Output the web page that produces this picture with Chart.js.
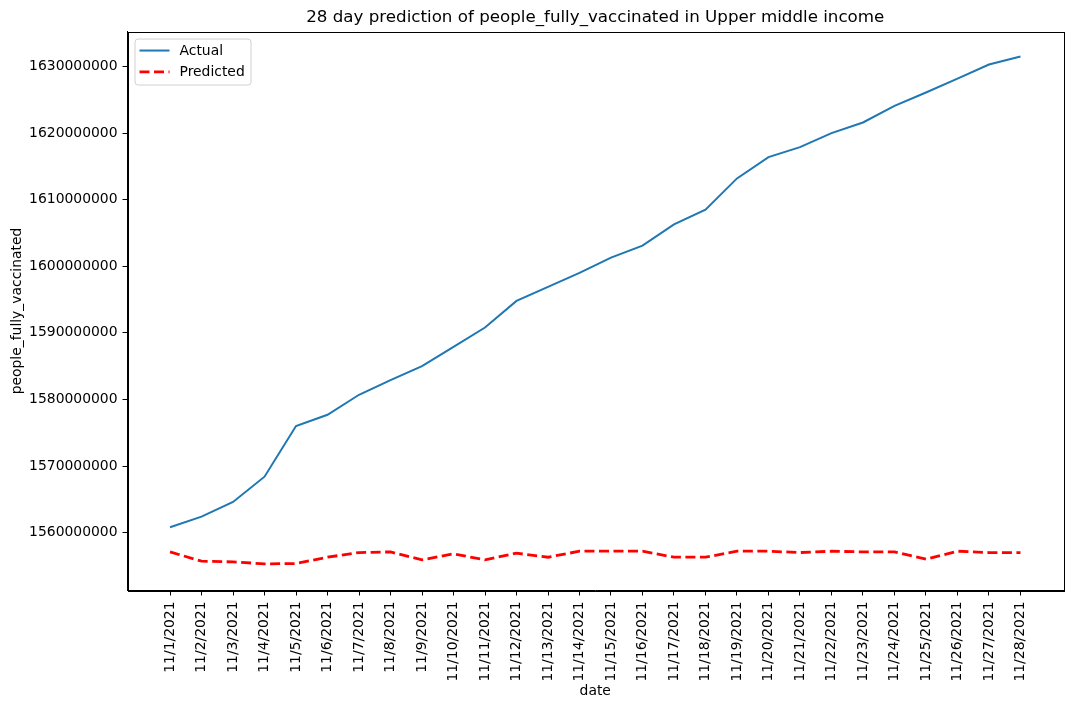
<!DOCTYPE html>
<html>
<head>
<meta charset="utf-8">
<script src="https://cdn.jsdelivr.net/npm/chart.js@4/dist/chart.umd.min.js"></script>
<style>
  body { margin: 0; background: #fff; }
  #wrap { width: 1070px; height: 709px; }
</style>
</head>
<body>
<div id="wrap"><canvas id="myChart"></canvas></div>
<script>
// dati
var dates = ['11/1/2021', '11/2/2021', '11/3/2021', '11/4/2021', '11/5/2021', '11/6/2021', '11/7/2021',
  '11/8/2021', '11/9/2021', '11/10/2021', '11/11/2021', '11/12/2021', '11/13/2021', '11/14/2021',
  '11/15/2021', '11/16/2021', '11/17/2021', '11/18/2021', '11/19/2021', '11/20/2021', '11/21/2021',
  '11/22/2021', '11/23/2021', '11/24/2021', '11/25/2021', '11/26/2021', '11/27/2021', '11/28/2021'];

var actual = [1560800000, 1562400000, 1564600000, 1568400000, 1576000000, 1577700000, 1580700000,
  1582900000, 1585000000, 1587900000, 1590800000, 1594800000, 1596900000, 1599000000,
  1601300000, 1603100000, 1606300000, 1608500000, 1613200000, 1616400000, 1617900000,
  1620000000, 1621600000, 1624100000, 1626100000, 1628200000, 1630300000, 1631500000];

var predicted = [1557100000, 1555700000, 1555600000, 1555300000, 1555350000, 1556300000, 1557000000,
  1557100000, 1555900000, 1556800000, 1555900000, 1556900000, 1556300000, 1557200000,
  1557200000, 1557200000, 1556300000, 1556300000, 1557200000, 1557200000, 1557000000,
  1557200000, 1557100000, 1557100000, 1556000000, 1557200000, 1557000000, 1557000000];

var yTicks = [1560000000, 1570000000, 1580000000, 1590000000, 1600000000, 1610000000, 1620000000, 1630000000];

var font = 'DejaVu Sans';

// cornice attorno all'area del grafico + legenda stile matplotlib
var framePlugin = {
  id: 'frame',
  afterDraw: function(chart) {
    var ctx = chart.ctx;
    var a = chart.chartArea;
    ctx.save();
    ctx.strokeStyle = '#000';
    ctx.lineWidth = 1;
    ctx.strokeRect(Math.round(a.left) + 0.5, Math.round(a.top) + 0.5,
      Math.round(a.right - a.left), Math.round(a.bottom - a.top));

    // legenda
    var lx = a.left + 7, ly = a.top + 7, lw = 116, lh = 46;
    ctx.beginPath();
    ctx.roundRect(lx + 0.5, ly + 0.5, lw, lh, 3);
    ctx.fillStyle = 'rgba(255,255,255,0.8)';
    ctx.fill();
    ctx.strokeStyle = '#d0d0d0';
    ctx.stroke();
    ctx.font = '13.9px ' + font;
    ctx.textBaseline = 'middle';
    chart.data.datasets.forEach(function(ds, i) {
      var yy = ly + 12 + i * 21.3;
      ctx.beginPath();
      ctx.setLineDash(ds.borderDash || []);
      ctx.lineWidth = ds.borderWidth;
      ctx.strokeStyle = ds.borderColor;
      ctx.moveTo(lx + 5, yy);
      ctx.lineTo(lx + 35, yy);
      ctx.stroke();
      ctx.setLineDash([]);
      ctx.fillStyle = '#000';
      ctx.fillText(ds.label, lx + 45, yy + 1);
    });
    ctx.restore();
  }
};

var ctx = document.getElementById('myChart').getContext('2d');
var myChart = new Chart(ctx, {
  type: 'line',
  data: {
    datasets: [{
      label: 'Actual',
      data: actual.map(function(v, i) { return {x: i, y: v}; }),
      borderColor: '#1f77b4',
      backgroundColor: '#1f77b4',
      borderWidth: 2,
      pointRadius: 0,
      tension: 0
    }, {
      label: 'Predicted',
      data: predicted.map(function(v, i) { return {x: i, y: v}; }),
      borderColor: '#ff0000',
      backgroundColor: '#ff0000',
      borderWidth: 2.8,
      borderDash: [10, 4.5],
      pointRadius: 0,
      tension: 0
    }]
  },
  options: {
    responsive: true,
    maintainAspectRatio: false,
    animation: false,
    layout: { padding: { left: 0, right: 7, top: 0, bottom: 0 } },
    plugins: {
      legend: { display: false },
      tooltip: { enabled: false },
      title: {
        display: true,
        fullSize: false,
        text: '28 day prediction of people_fully_vaccinated in Upper middle income',
        color: '#000',
        font: { family: font, size: 16.7, weight: 'normal' },
        padding: { top: 8, bottom: 3.5 }
      }
    },
    scales: {
      x: {
        type: 'linear',
        min: -1.35,
        max: 28.35,
        afterBuildTicks: function(scale) {
          scale.ticks = dates.map(function(d, i) { return {value: i}; });
        },
        afterFit: function(scale) { scale.height = 118.5; },
        ticks: {
          autoSkip: false,
          minRotation: 90,
          maxRotation: 90,
          padding: 6,
          color: '#000',
          font: { family: font, size: 13.9 },
          callback: function(v) { return dates[v]; }
        },
        grid: { drawOnChartArea: false, drawTicks: true, tickLength: 5, color: '#000' },
        border: { display: true, color: '#000', width: 1 },
        title: {
          display: true,
          text: 'date',
          color: '#000',
          font: { family: font, size: 13.9 },
          padding: { top: 0, bottom: 9.5 }
        }
      },
      y: {
        min: 1551300000,
        max: 1635260000,
        afterBuildTicks: function(scale) {
          scale.ticks = yTicks.map(function(v) { return {value: v}; });
        },
        afterFit: function(scale) { scale.width = 127.5; },
        ticks: {
          padding: 5,
          color: '#000',
          font: { family: font, size: 13.9 },
          callback: function(v) { return String(v); }
        },
        grid: { drawOnChartArea: false, drawTicks: true, tickLength: 5, color: '#000' },
        border: { display: true, color: '#000', width: 1 },
        title: {
          display: true,
          text: 'people_fully_vaccinated',
          color: '#000',
          font: { family: font, size: 13.9 },
          padding: { top: 9, bottom: 0 }
        }
      }
    }
  },
  plugins: [framePlugin]
});
</script>
</body>
</html>
